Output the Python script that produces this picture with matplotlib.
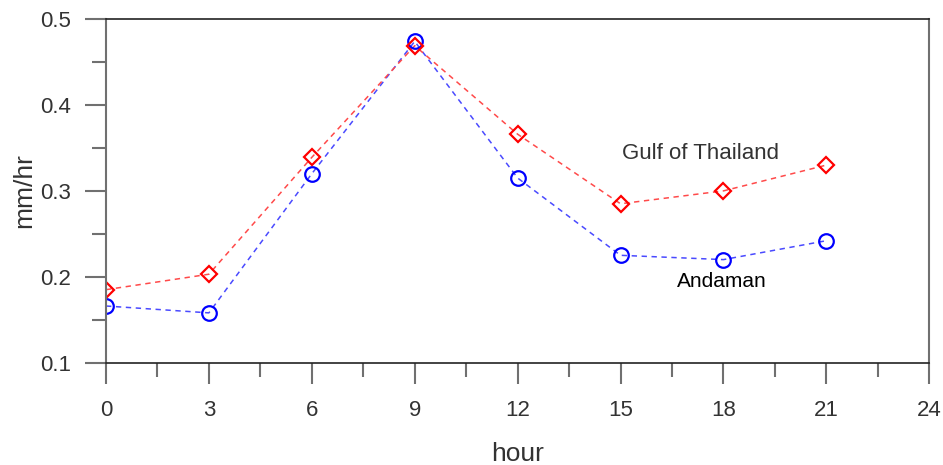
import numpy as np
import matplotlib as mpl
mpl.use('Agg')
import matplotlib.pyplot as plt
import matplotlib.ticker as ticker

# data
hours = [0, 3, 6, 9, 12, 15, 18, 21]
gulf = [0.185, 0.203, 0.339, 0.469, 0.366, 0.285, 0.300, 0.330]
andaman = [0.166, 0.158, 0.320, 0.474, 0.315, 0.225, 0.220, 0.242]

plt.rcParams['font.family'] = ['Liberation Sans', 'DejaVu Sans']

fig = plt.figure(figsize=(9.43, 4.65), dpi=100, facecolor='w')
ax = fig.add_axes([0.1124, 0.22, 0.873, 0.739])

ax.plot(hours, andaman, color='#4a4aff', ls=(0, (3.5, 3)), lw=1.1)
ax.plot(hours, gulf, color='#ff4a4a', ls=(0, (3.5, 3)), lw=1.1)
ax.plot(hours, andaman, ls='none', marker='o', ms=10.5, mfc='none',
        mec='#0000ff', mew=1.6)
ax.plot(hours, gulf, ls='none', marker='D', ms=8.3, mfc='none',
        mec='#ff0000', mew=1.6)

ax.set_xlim(0, 24)
ax.set_ylim(0.1, 0.5)
ax.xaxis.set_major_locator(ticker.MultipleLocator(3))
ax.xaxis.set_minor_locator(ticker.MultipleLocator(1.5))
ax.yaxis.set_major_locator(ticker.MultipleLocator(0.1))
ax.yaxis.set_minor_locator(ticker.MultipleLocator(0.05))
ax.yaxis.set_major_formatter(ticker.FormatStrFormatter('%.1f'))

ax.tick_params(axis='both', which='major', direction='out', length=15,
               width=1.5, color='#707070', labelsize=16, labelcolor='#333333')
ax.tick_params(axis='x', which='major', pad=12)
ax.tick_params(axis='y', which='major', pad=10)
ax.tick_params(axis='both', which='minor', direction='out', length=10,
               width=1.5, color='#707070')

for s in ['left', 'right']:
    ax.spines[s].set_color('#707070')
    ax.spines[s].set_linewidth(1.5)
for s in ['top', 'bottom']:
    ax.spines[s].set_color('#222222')
    ax.spines[s].set_linewidth(1.2)

ax.set_xlabel('hour', fontsize=19, color='#333333', labelpad=15)
ax.set_ylabel('mm/hr', fontsize=19, color='#333333', labelpad=3)

ax.text(15.05, 0.343, 'Gulf of Thailand', fontsize=16, color='#333333',
        va='center')
ax.text(16.65, 0.194, 'Andaman', fontsize=15, color='black', va='center')

plt.savefig('out.png', dpi=100)
